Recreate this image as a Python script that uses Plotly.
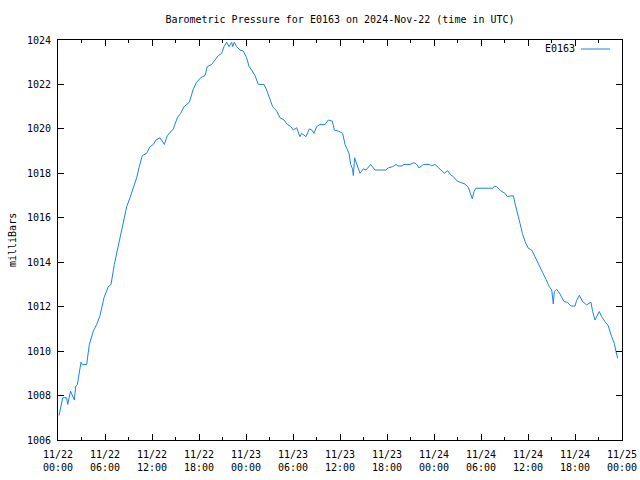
import pandas as pd
import plotly.graph_objects as go

# hours after 2024-11-22 00:00 UTC
hours = [0.13, 0.6, 1.1, 1.24, 1.6, 1.9, 2.08, 2.26, 2.47, 2.94, 3.1, 3.66, 3.79, 4.0, 4.51, 4.94,
         5.36, 5.87, 6.42, 6.77, 7.19, 7.62, 7.91, 8.34, 8.77, 9.19, 9.61, 10.04, 10.38, 10.76,
         11.32, 11.74, 12.17, 12.51, 13.02, 13.57, 13.96, 14.72, 15.23, 15.66, 16.09, 16.77,
         17.28, 17.7, 18.22, 18.77, 19.06, 19.61, 20.04, 20.47, 20.89, 21.19, 21.53, 21.83,
         22.17, 22.3, 22.5, 22.8, 23.23, 23.66, 24.08, 24.4, 24.72, 25.15, 25.57, 26.3, 26.64,
         27.06, 27.4, 27.92, 28.34, 28.85, 29.28, 29.71, 30.04, 30.47, 30.89, 31.1, 31.66,
         32.08, 32.4, 32.68, 33.02, 33.45, 34.09, 34.51, 35.02, 35.28, 35.79, 36.34, 36.64,
         37.15, 37.36, 37.6, 37.7, 37.87, 38.13, 38.55, 38.98, 39.32, 39.91, 40.47, 41.83,
         42.17, 42.72, 43.15, 43.4, 43.96, 44.09, 44.94, 45.45, 45.8, 46.09, 46.64, 47.4,
         47.7, 48.13, 48.55, 49.32, 49.75, 50.13, 50.47, 50.9, 51.32, 51.96, 52.38, 52.68,
         52.89, 53.11, 53.36, 55.49, 55.7, 56.0, 56.5, 57.06, 57.36, 57.7, 58.13, 58.34,
         58.64, 58.98, 59.28, 59.62, 60.04, 60.47, 60.89, 61.45, 61.88, 62.3, 62.72, 63.03,
         63.23, 63.36, 63.66, 64.09, 64.6, 65.02, 65.46, 66.0, 66.2, 66.55, 66.97, 67.48,
         68.04, 68.25, 68.55, 69.1, 69.4, 69.83, 70.26, 70.68, 71.02, 71.23, 71.45]

pressure = [1007.1, 1007.9, 1007.9, 1007.6, 1008.2, 1007.9, 1007.8, 1008.4, 1008.5, 1009.5, 1009.4,
            1009.4, 1009.7, 1010.3, 1010.9, 1011.2, 1011.6, 1012.4, 1012.9, 1013.0, 1013.9,
            1014.6, 1015.0, 1015.7, 1016.5, 1016.9, 1017.3, 1017.8, 1018.3, 1018.8, 1018.9,
            1019.2, 1019.3, 1019.5, 1019.6, 1019.3, 1019.7, 1020.0, 1020.5, 1020.7, 1021.0,
            1021.2, 1021.8, 1022.1, 1022.3, 1022.4, 1022.8, 1022.9, 1023.1, 1023.3, 1023.4,
            1023.7, 1023.9, 1023.7, 1023.9, 1023.7, 1023.9, 1023.7, 1023.55, 1023.5, 1023.2,
            1022.8, 1022.65, 1022.4, 1022.0, 1022.0, 1021.75, 1021.3, 1021.0, 1020.8, 1020.5,
            1020.4, 1020.2, 1020.1, 1019.95, 1020.05, 1019.65, 1019.8, 1019.65, 1020.0,
            1019.95, 1019.8, 1020.1, 1020.2, 1020.2, 1020.4, 1020.35, 1019.95, 1019.9, 1019.8,
            1019.3, 1018.9, 1018.4, 1018.2, 1017.9, 1018.7, 1018.45, 1018.0, 1018.2, 1018.15,
            1018.4, 1018.15, 1018.15, 1018.25, 1018.3, 1018.4, 1018.33, 1018.33, 1018.4,
            1018.4, 1018.48, 1018.4, 1018.24, 1018.4, 1018.4, 1018.34, 1018.4, 1018.27, 1018.0,
            1018.12, 1017.93, 1017.85, 1017.67, 1017.6, 1017.52, 1017.37, 1017.1, 1016.85,
            1017.18, 1017.33, 1017.33, 1017.42, 1017.4, 1017.22, 1017.1, 1016.95, 1016.98,
            1016.99, 1016.65, 1016.28, 1015.75, 1015.3, 1014.93, 1014.63, 1014.55, 1014.25,
            1013.88, 1013.53, 1013.23, 1012.9, 1012.75, 1012.12, 1012.68, 1012.78, 1012.57,
            1012.23, 1012.2, 1012.03, 1012.03, 1012.27, 1012.51, 1012.23, 1012.08, 1012.2,
            1011.78, 1011.4, 1011.78, 1011.55, 1011.33, 1011.13, 1010.65, 1010.35, 1009.98,
            1009.68]

start = pd.Timestamp("2024-11-22 00:00")
times = [start + pd.Timedelta(hours=h) for h in hours]

FONT = "DejaVu Sans Mono"
LINE_COLOR = "#1a84ea"

fig = go.Figure()
fig.add_trace(go.Scatter(x=times, y=pressure, mode="lines", name="E0163",
                         line=dict(color=LINE_COLOR, width=1), showlegend=False))

fig.update_layout(
    width=640, height=480,
    margin=dict(l=58, r=18, t=40, b=40, autoexpand=False),
    paper_bgcolor="white", plot_bgcolor="white",
    font=dict(family=FONT, size=10, color="black"),
    title=dict(text="Barometric Pressure for E0163 on 2024-Nov-22 (time in UTC)",
               x=0.5, xref="paper", y=1 - 19 / 480, yanchor="middle",
               font=dict(family=FONT, size=10, color="black")),
    xaxis=dict(
        range=["2024-11-22 00:00", "2024-11-25 00:00"],
        dtick=6 * 3600 * 1000, tick0="2024-11-22 00:00",
        tickformat="%m/%d<br>%H:%M",
        ticks="inside", ticklen=6, tickcolor="black", tickwidth=1,
        minor=dict(dtick=3 * 3600 * 1000, ticks="inside", ticklen=3, tickcolor="black"),
        showline=True, linecolor="black", linewidth=1, mirror="ticks",
        showgrid=False, zeroline=False, automargin=False,
        tickfont=dict(family=FONT, size=10, color="black"),
        ticklabelstandoff=5,
    ),
    yaxis=dict(
        range=[1006, 1024], dtick=2, tick0=1006,
        ticks="inside", ticklen=6, tickcolor="black", tickwidth=1,
        showline=True, linecolor="black", linewidth=1, mirror="ticks",
        showgrid=False, zeroline=False, automargin=False,
        tickfont=dict(family=FONT, size=10, color="black"),
        ticklabelstandoff=4,
    ),
    annotations=[
        dict(text="milliBars", textangle=-90, xref="paper", yref="paper",
             x=(12 - 58) / 564, y=0.5, xanchor="center", yanchor="middle",
             showarrow=False, font=dict(family=FONT, size=10, color="black")),
        dict(text="E0163", xref="paper", yref="paper",
             x=(577 - 58) / 564, y=(440 - 49) / 400, xanchor="right", yanchor="middle",
             showarrow=False, font=dict(family=FONT, size=10, color="black")),
    ],
    shapes=[
        dict(type="line", xref="paper", yref="paper",
             x0=(581 - 58) / 564, x1=(610 - 58) / 564,
             y0=(440 - 49) / 400, y1=(440 - 49) / 400,
             line=dict(color=LINE_COLOR, width=1)),
    ],
)

fig.write_html("out.html")
